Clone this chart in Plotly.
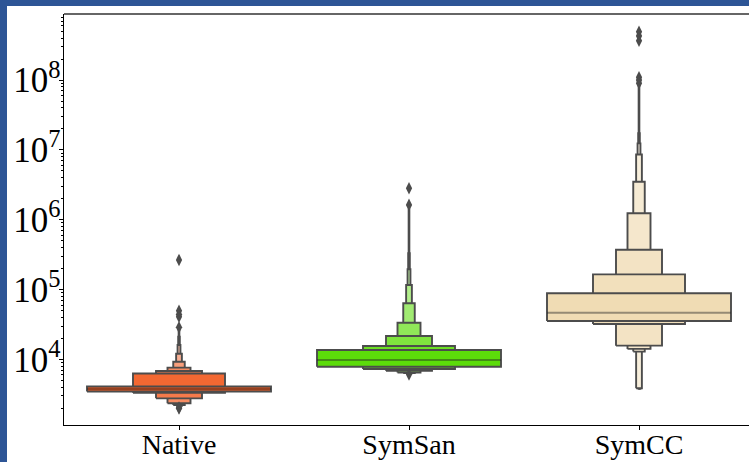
import plotly.graph_objects as go

# ---------------- data ----------------
categories = ["Native", "SymSan", "SymCC"]

# letter values: index 0 = Q1/Q3 box, then outward
native_lower = [3460, 3320, 2760, 2345, 2220, 2150, 2100, 2080, 2060]
native_upper = [4075, 6270, 6790, 7590, 9240, 12000, 16000, 21000, 26300]
native_median = 3760
native_outliers = [265000, 49700, 44000, 40700, 28700, 1980, 2030]

symsan_lower = [7830, 7260, 6870, 6450, 6350, 6300, 6250, 6200, 6200]
symsan_upper = [13600, 15500, 21600, 33400, 63500, 116000, 195000, 330000, 1400000]
symsan_median = 9780
symsan_outliers = [2820000, 1630000, 6050]

symcc_lower = [35400, 32000, 15700, 14100, 12900, 3850, 3820, 3800, 3800]
symcc_upper = [88300, 165000, 371000, 1240000, 3500000, 8600000, 12400000, 17400000, 85000000]
symcc_median = 46600
symcc_outliers = [493000000, 430000000, 367000000, 110000000, 100000000, 90000000]

base_colors = ["#F2561A", "#5CDC0A", "#F0DCB4"]

lowers = [native_lower, symsan_lower, symcc_lower]
uppers = [native_upper, symsan_upper, symcc_upper]
medians = [native_median, symsan_median, symcc_median]
outliers = [native_outliers, symsan_outliers, symcc_outliers]

# ---------------- style ----------------
EDGE = "#4C4C4C"
BOX_WIDTH = 0.8
FONT = "Liberation Serif, Times New Roman, serif"
BLUE = "#2D5596"


def hex_to_rgb(h):
    h = h.lstrip("#")
    return tuple(int(h[i:i + 2], 16) for i in (0, 2, 4))


def level_color(base, j, k):
    r, g, b = hex_to_rgb(base)
    light = (r * 0.15 + 255 * 0.85, g * 0.15 + 255 * 0.85, b * 0.15 + 255 * 0.85)
    t = j / (k - 1) if k > 1 else 0
    c = [int(round(v * (1 - t) + l * t)) for v, l in zip((r, g, b), light)]
    return "rgb(%d,%d,%d)" % tuple(c)


fig = go.Figure()

for ci, cat in enumerate(categories):
    lo = lowers[ci]
    hi = uppers[ci]
    k = len(lo)
    # draw outermost (narrowest) first, inner box last
    for j in reversed(range(k)):
        w = BOX_WIDTH * (0.5 ** j)
        x0, x1 = ci - w / 2, ci + w / 2
        fig.add_trace(go.Scatter(
            x=[x0, x1, x1, x0, x0],
            y=[lo[j], lo[j], hi[j], hi[j], lo[j]],
            mode="lines", fill="toself",
            fillcolor=level_color(base_colors[ci], j, k),
            line=dict(color=EDGE, width=1.9),
            hoverinfo="skip", showlegend=False,
        ))
    # median
    fig.add_trace(go.Scatter(
        x=[ci - BOX_WIDTH / 2, ci + BOX_WIDTH / 2],
        y=[medians[ci], medians[ci]],
        mode="lines", line=dict(color="rgba(38,38,38,0.45)", width=2),
        hoverinfo="skip", showlegend=False,
    ))
    # outliers
    fig.add_trace(go.Scatter(
        x=[ci] * len(outliers[ci]), y=outliers[ci],
        mode="markers",
        marker=dict(symbol="diamond-tall", size=9, color=EDGE),
        hoverinfo="skip", showlegend=False,
    ))

W, H = 749, 462
ML, MR, MT, MB = 64, 0, 14, 37
PW, PH = W - ML - MR, H - MT - MB
FRAME_L, FRAME_T = 7, 6

fig.update_layout(
    width=W, height=H,
    margin=dict(l=ML, r=MR, t=MT, b=MB, pad=0, autoexpand=False),
    paper_bgcolor=BLUE, plot_bgcolor="white",
    font=dict(family=FONT, size=28, color="black"),
    showlegend=False,
)
fig.update_xaxes(
    range=[-0.5, -0.5 + PW / 230.0],
    tickmode="array", tickvals=list(range(len(categories))), ticktext=categories,
    showgrid=False, zeroline=False, automargin=False,
    showline=True, linecolor="black", linewidth=1,
    ticks="outside", ticklen=4, tickcolor="black",
    ticklabelstandoff=-10,
)
fig.update_yaxes(
    type="log", range=[3.059, 8.947],
    dtick=1, exponentformat="power", showexponent="all",
    showgrid=False, zeroline=False, automargin=False,
    showline=True, linecolor="black", linewidth=1,
    ticks="outside", ticklen=4, tickcolor="black",
    ticklabelstandoff=-7,
    minor=dict(ticks="outside", ticklen=2, tickcolor="black", dtick="D1", showgrid=False),
)

# white page area inside the blue frame (blue shows at left and top only)
fig.add_shape(type="rect", xref="paper", yref="paper", layer="below",
              x0=(FRAME_L - ML) / PW, x1=1 + 10 / PW,
              y0=-(MB + 10) / PH, y1=1 + (MT - FRAME_T) / PH,
              fillcolor="white", line=dict(width=0))
# top spine
fig.add_shape(type="line", xref="paper", yref="paper", x0=0, x1=1, y0=1, y1=1,
              line=dict(color="#333333", width=1.5))

page_js = ("document.body.style.margin='0';document.body.style.overflow='hidden';"
           "document.body.style.background='%s';") % BLUE
fig.write_html("out.html", post_script=page_js, config={"displayModeBar": False})
